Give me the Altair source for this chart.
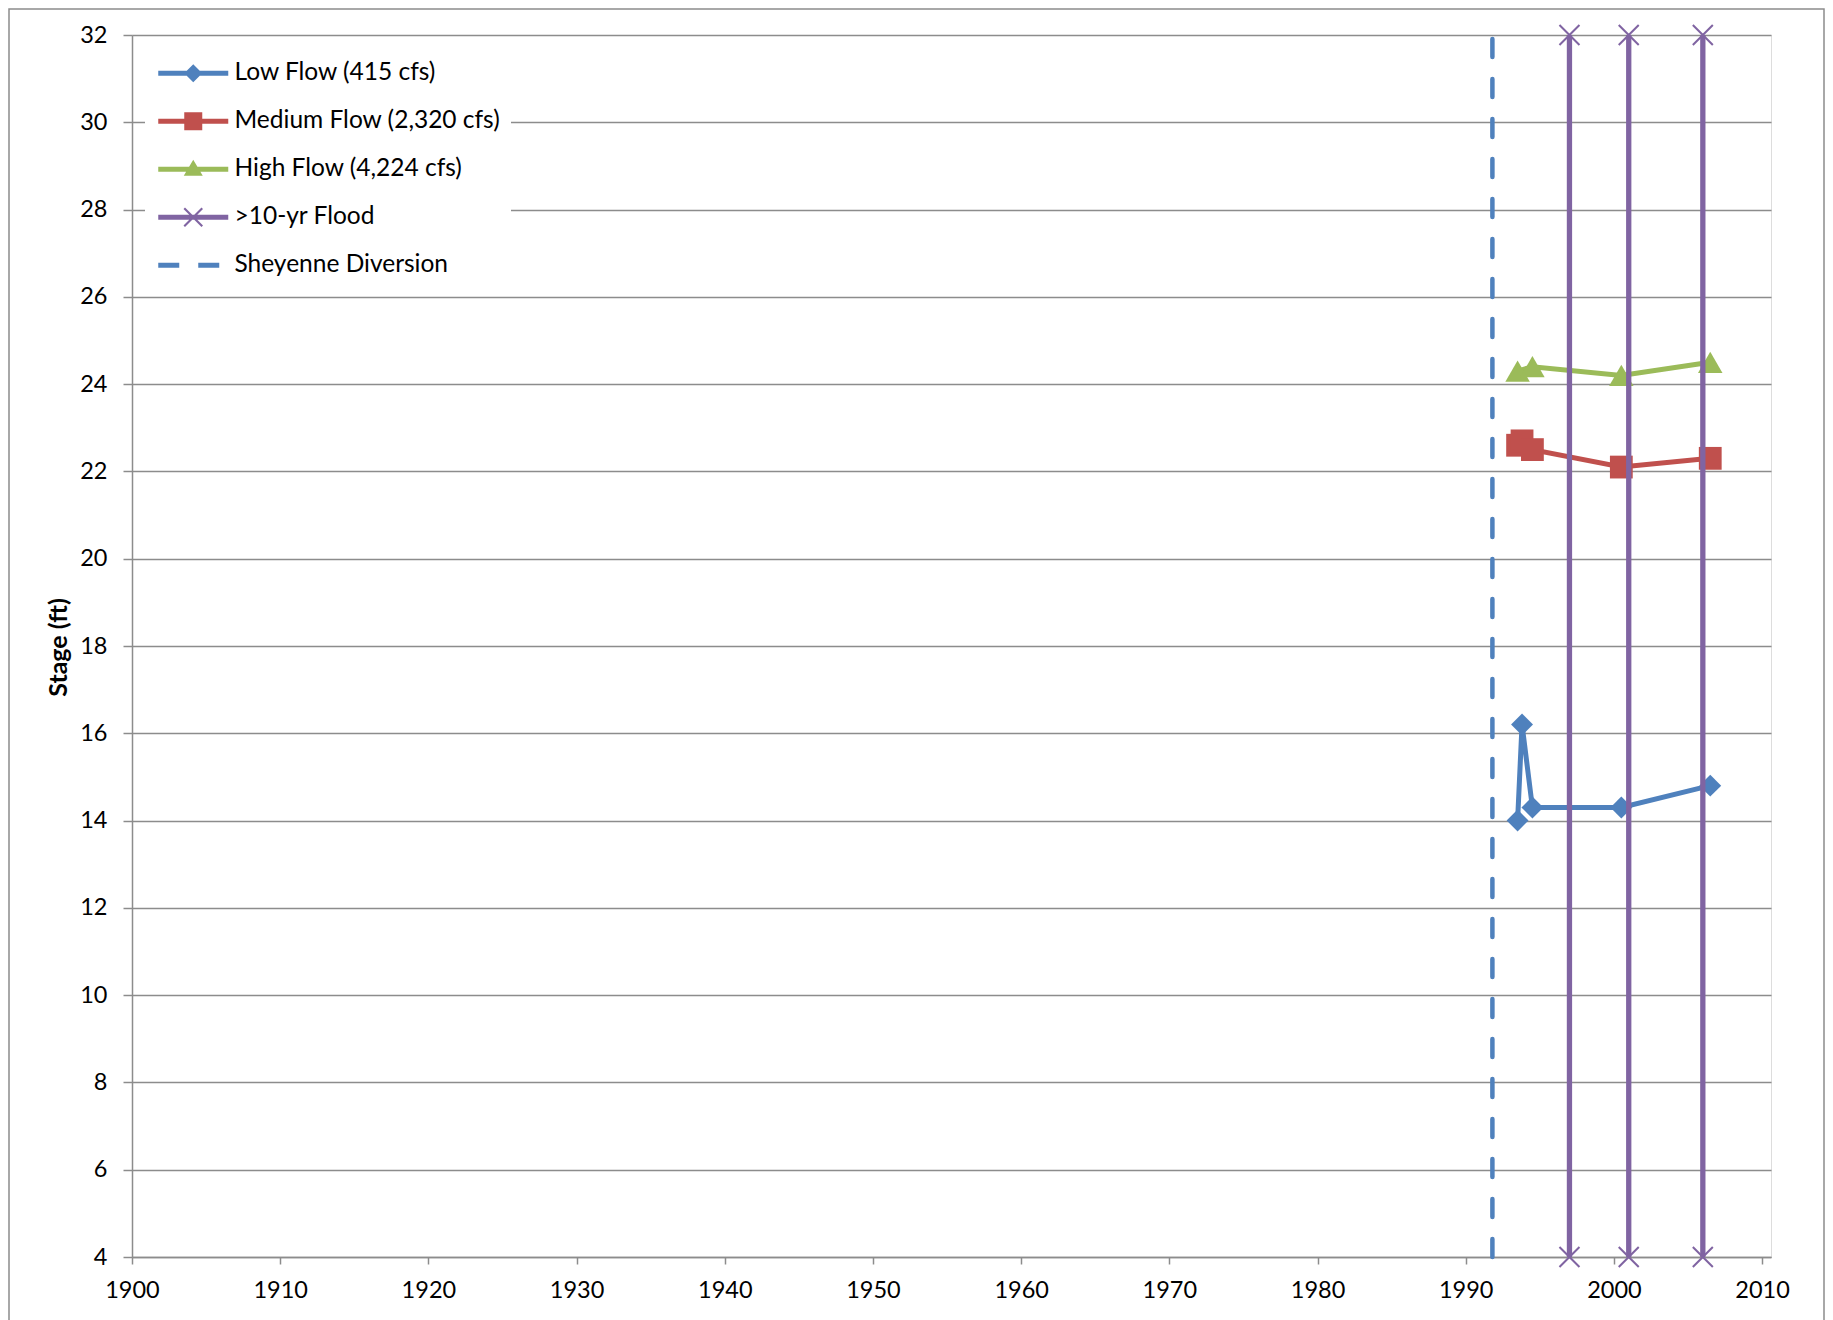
import altair as alt
import pandas as pd

# ---------------- data ----------------
series_names = [
    "Low Flow (415 cfs)",
    "Medium Flow (2,320 cfs)",
    "High Flow (4,224 cfs)",
    ">10-yr Flood",
    "Sheyenne Diversion",
]
low_years = [1993.5, 1993.8, 1994.5, 2000.5, 2006.5]
low_stage = [14.0, 16.2, 14.3, 14.3, 14.8]
med_years = [1993.5, 1993.8, 1994.5, 2000.5, 2006.5]
med_stage = [22.6, 22.7, 22.5, 22.1, 22.3]
high_years = [1993.5, 1994.5, 2000.5, 2006.5]
high_stage = [24.3, 24.4, 24.2, 24.5]
flood_years = [1997.0, 2001.0, 2006.0]
diversion_years = [1991.8]
x_ticks = [1900, 1910, 1920, 1930, 1940, 1950, 1960, 1970, 1980, 1990, 2000, 2010]
y_ticks = [4, 6, 8, 10, 12, 14, 16, 18, 20, 22, 24, 26, 28, 30, 32]
x_domain = [1900, 2010.6]
y_domain = [4, 32]

# ---------------- styles ----------------
BLUE = "#4F81BD"
RED = "#C0504D"
GREEN = "#9BBB59"
PURPLE = "#8064A2"
GRID = "#8C8C8C"
FONT = "Lato"
colors = [BLUE, RED, GREEN, PURPLE, BLUE]

# legend glyphs (line + marker) drawn as custom symbol paths
SYM_SIZE = 576            # sqrt = 24 px -> 1 path unit = 12 px
U = 12.0


def P(pts):
    return "M" + "L".join(f"{x / U:.4f},{y / U:.4f}" for x, y in pts) + "Z"


lh = 2.4
line_rect = P([(-35, -lh), (35, -lh), (35, lh), (-35, lh)])
diamond = P([(0, -9), (9, 0), (0, 9), (-9, 0)])
square = P([(-9, -9), (9, -9), (9, 9), (-9, 9)])
tri = P([(0, -9.5), (9.5, 6.5), (-9.5, 6.5)])
dd, bb = 0.75, 9
xa1 = P([(-bb + dd, -bb - dd), (bb + dd, bb - dd), (bb - dd, bb + dd), (-bb - dd, -bb + dd)])
xa2 = P([(bb + dd, -bb + dd), (-bb + dd, bb + dd), (-bb - dd, bb - dd), (bb - dd, -bb - dd)])
dashes = P([(-35, -lh), (-14, -lh), (-14, lh), (-35, lh)]) + P([(5, -lh), (26, -lh), (26, lh), (5, lh)])
legend_paths = [
    line_rect + diamond,
    line_rect + square,
    line_rect + tri,
    line_rect + xa1 + xa2,
    dashes,
]

# ---------------- tables ----------------
rows = []
for name, ys, ss in [
    (series_names[0], low_years, low_stage),
    (series_names[1], med_years, med_stage),
    (series_names[2], high_years, high_stage),
]:
    for yr, st in zip(ys, ss):
        rows.append({"series": name, "year": yr, "stage": st})
series_df = pd.DataFrame(rows)

flood_df = pd.DataFrame({"year": flood_years, "lo": [y_domain[0]] * len(flood_years),
                         "hi": [y_domain[1]] * len(flood_years)})
flood_pts = pd.DataFrame(
    [{"year": yr, "stage": s} for yr in flood_years for s in y_domain]
)
div_df = pd.DataFrame({"year": diversion_years, "lo": [y_domain[0]], "hi": [y_domain[1]]})
legend_df = pd.DataFrame({"series": series_names})


def xenc(field="year"):
    return alt.X(
        f"{field}:Q",
        scale=alt.Scale(domain=x_domain, nice=False, zero=False),
        axis=alt.Axis(
            values=x_ticks, title=None, grid=False, format="d",
            domainColor=GRID, domainWidth=1.5, tickColor=GRID, tickWidth=1.5, tickSize=7,
            labelFont=FONT, labelFontSize=23.5, labelColor="black", labelPadding=14,
            labelFlush=False,
        ),
    )


def yenc(field="stage"):
    return alt.Y(
        f"{field}:Q",
        scale=alt.Scale(domain=y_domain, nice=False, zero=False),
        axis=alt.Axis(
            values=y_ticks, title="Stage (ft)", grid=True, gridColor=GRID, gridWidth=1.5,
            domainColor=GRID, domainWidth=1.5, tickColor=GRID, tickWidth=1.5, tickSize=9,
            labelFont=FONT, labelFontSize=23.5, labelColor="black", labelPadding=16,
            titleFont=FONT, titleFontSize=25, titleFontWeight="bold", titleColor="black",
            titleAngle=-90, titleX=-74, titleY=612, titleAlign="center",
            titleBaseline="middle",
        ),
    )


diversion = alt.Chart(div_df).mark_rule(
    color=BLUE, strokeWidth=4.5, strokeDash=[18, 22], strokeCap="round"
).encode(x=xenc(), y=yenc("lo"), y2="hi:Q")

series_layers = []
for name, shp, col, sz in [
    (series_names[0], "diamond", BLUE, 480),
    (series_names[1], "square", RED, 520),
    (series_names[2], "triangle-up", GREEN, 600),
]:
    base = alt.Chart(series_df).transform_filter(alt.datum.series == name)
    series_layers.append(
        base.mark_line(strokeWidth=5, color=col).encode(x=xenc(), y=yenc(), order="year:Q")
    )
    series_layers.append(
        base.mark_point(shape=shp, filled=True, size=sz, opacity=1, color=col)
        .encode(x=xenc(), y=yenc())
    )

floods = alt.Chart(flood_df).mark_rule(color=PURPLE, strokeWidth=5.3).encode(
    x=xenc(), y=yenc("lo"), y2="hi:Q"
)
flood_marks = alt.Chart(flood_pts).mark_point(
    shape="M-1,-1L1,1M-1,1L1,-1", filled=False, size=400, strokeWidth=2,
    color=PURPLE, opacity=1,
).encode(x=xenc(), y=yenc())

leg = alt.Legend(
    title=None, orient="none", legendX=13, legendY=16, fillColor="white",
    padding=10, symbolSize=SYM_SIZE, symbolStrokeWidth=0, symbolOpacity=1,
    symbolOffset=26, labelOffset=29, labelFont=FONT, labelFontSize=24.5,
    labelColor="black", labelLimit=500, rowPadding=23,
)
legend_layer = alt.Chart(legend_df).mark_point(filled=True, opacity=0).encode(
    color=alt.Color("series:N", scale=alt.Scale(domain=series_names, range=colors), legend=leg),
    shape=alt.Shape("series:N", scale=alt.Scale(domain=series_names, range=legend_paths),
                    legend=leg),
)

frame = alt.Chart(pd.DataFrame({"k": [0]})).mark_rect(
    fillOpacity=0, stroke="#8C8C8C", strokeWidth=1.5
).encode(x=alt.value(-123), x2=alt.value(1692), y=alt.value(-26), y2=alt.value(1400))

chart = alt.layer(
    frame, diversion, *series_layers, floods, flood_marks, legend_layer
).properties(
    width=1639, height=1222,
    autosize=alt.AutoSizeParams(type="none"),
    padding={"left": 124, "top": 27, "right": 54, "bottom": 63},
).configure_view(strokeWidth=0).configure(background="white")

chart.save("out.html", embed_options={"renderer": "svg", "actions": False})
